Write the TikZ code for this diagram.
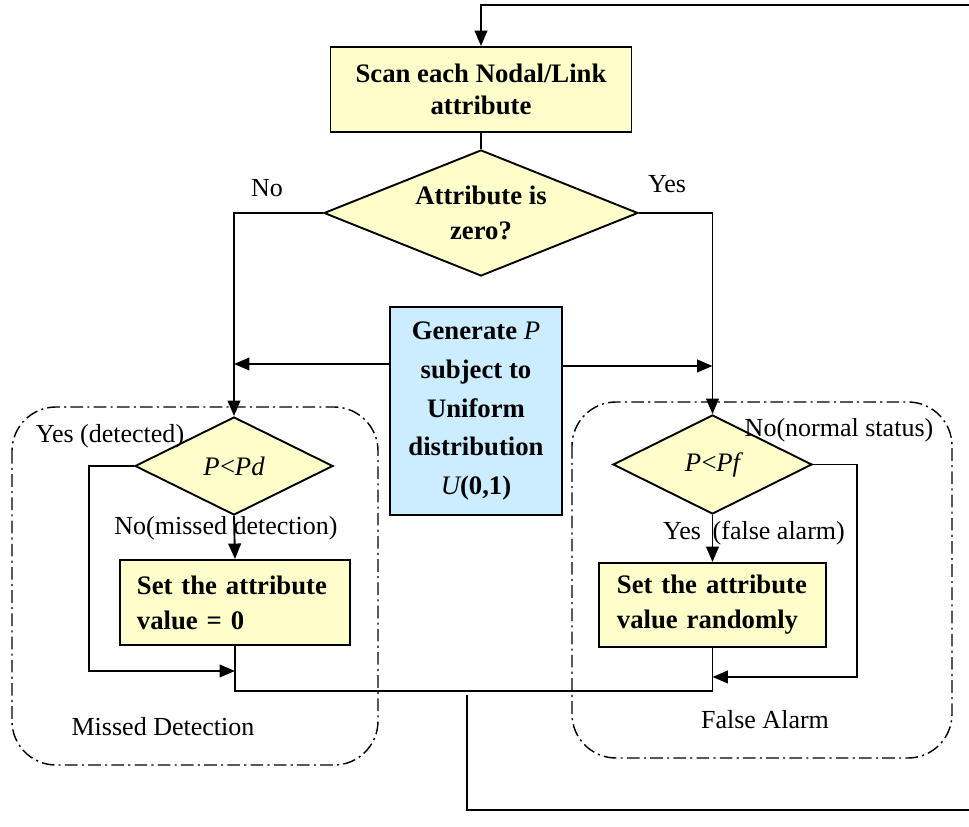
\documentclass[tikz,border=0pt]{standalone}
\usepackage{fontspec}
\setmainfont{Liberation Serif}
\usetikzlibrary{shapes.geometric,arrows.meta}
\definecolor{boxyellow}{HTML}{FFFFCC}
\definecolor{boxblue}{HTML}{CCECFF}
\begin{document}
\begin{tikzpicture}[x=0.025cm,y=-0.025cm,
  line/.style={line width=1.35pt},
  arr/.style={line width=1.35pt, -{Triangle[length=11pt,width=9pt]}},
  procbox/.style={draw, line width=1.35pt, fill=boxyellow, align=center,
    font=\bfseries\fontsize{19}{23}\selectfont},
  decision/.style={diamond, draw, line width=1.35pt, fill=boxyellow,
    inner sep=0pt, align=center},
  lbl/.style={font=\fontsize{18.5}{22}\selectfont, inner sep=0pt},
  group/.style={draw, line width=1pt, rounded corners=1.1cm,
    dash pattern=on 9pt off 3pt on 1.5pt off 3pt}
]
\useasboundingbox (0,0) rectangle (969,827);

% dash-dotted groups
\draw[group] (12,407) rectangle (378,765);
\draw[group] (572,402) rectangle (952,758);

% process and decision nodes
\node[procbox, minimum width=7.525cm, minimum height=2.125cm]
  (scan) at (481,89.5) {Scan each Nodal/Link\\attribute};
\node[decision, aspect=2.5, minimum width=7.85cm, minimum height=3.15cm,
  font=\bfseries\fontsize{19}{25}\selectfont]
  (dz) at (481,213) {Attribute is\\zero?};
\node[procbox, fill=boxblue, minimum width=4.3cm, minimum height=5.2cm,
  font=\bfseries\fontsize{19}{27.5}\selectfont]
  (gen) at (476,411) {Generate {\mdseries\itshape P}\\subject to\\Uniform\\distribution\\{\mdseries\itshape U}(0,1)};
\node[decision, aspect=2, minimum width=4.95cm, minimum height=2.45cm,
  font=\itshape\fontsize{19}{23}\selectfont]
  (dpd) at (234,466) {P\kern-1pt<\kern-1pt Pd};
\node[decision, aspect=2, minimum width=4.975cm, minimum height=2.475cm,
  font=\itshape\fontsize{19}{23}\selectfont]
  (dpf) at (712.5,464.5) {P\kern-1pt<\kern-1pt Pf};
\node[procbox, minimum width=5.75cm, minimum height=2.125cm,
  text width=4.9cm, inner xsep=0.425cm, align=left,
  font=\bfseries\fontsize{19}{25}\selectfont]
  (set0) at (235,602.5) {Set the attribute\\value = 0};
\node[procbox, minimum width=5.675cm, minimum height=2.1cm,
  text width=4.775cm, inner xsep=0.45cm, align=left,
  font=\bfseries\fontsize{19}{25}\selectfont]
  (setr) at (712.5,605) {Set the attribute\\value randomly};

% labels
\node[lbl] (lno) at (267,188) {No};
\node[lbl] (lyes) at (667,184) {Yes};
\node[lbl] (lyd) at (110,436) {Yes (detected)};
\node[lbl] (lnm) at (226,528) {No(missed detection)};
\node[lbl] (lnn) at (839,430) {No(normal status)};
\node[lbl] (lyf) at (754,533) {Yes\hspace{0.45em}(false alarm)};
\node[lbl] (lmd) at (163,727) {Missed Detection};
\node[lbl] (lfa) at (765,720) {False Alarm};

% helper points
\coordinate (gl) at ([yshift=1.175cm]gen.west);
\coordinate (gr) at ([yshift=1.125cm]gen.east);
\coordinate (ljoin) at ([yshift=-0.625cm]set0.south);
\coordinate (lbot) at ([yshift=-1.125cm]set0.south);
\coordinate (rjoin) at ([yshift=-0.725cm]setr.south);
\coordinate (fb) at (467,695);

% connectors
\draw[line] (scan.south) -- (dz.north);
\draw[arr] (dz.west) -| (dpd.north);
\draw[arr] (dz.east) -| (dpf.north);
\draw[arr] (gl) -- (gl -| dpd.north);
\draw[arr] (gr) -- (gr -| dpf.north);
\draw[arr] (dpd.south) -- (set0.north);
\draw[arr] (dpf.south) -- (setr.north);
\draw[arr] (dpd.west) -- ++(-45,0) |- (ljoin);
\draw[arr] (dpf.east) -- ++(44,0) |- (rjoin);
\draw[line] (set0.south) -- (lbot) -| (setr.south);
\draw[arr] (fb) -- (467,810) -- (990,810) -- (990,5) -| (scan.north);
\end{tikzpicture}
\end{document}
